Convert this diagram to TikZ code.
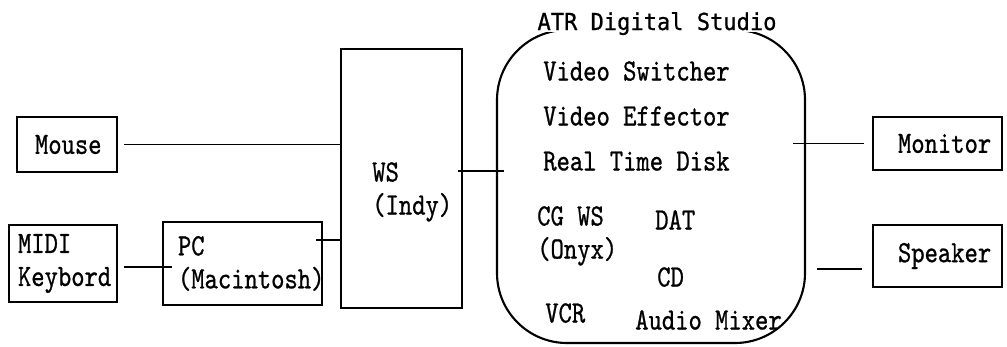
\documentclass[tikz,border=0pt]{standalone}
\usepackage{fontspec}
\usepackage{tikz}
\usetikzlibrary{positioning, calc}
\newfontfamily\titulo[FakeStretch=0.945, FakeBold=0.8]{DejaVu Sans Mono}
\newfontfamily\minchofam[FakeStretch=0.82, FakeBold=0.8]{lmmono10-regular.otf}
\newcommand\mincho{\minchofam\fontsize{22}{23.5}\selectfont}
\tikzset{
  equipo/.style={rectangle, draw=black, line width=1.4pt,
    align=left, font=\mincho, inner sep=0pt},
  estudio/.style={rectangle, rounded corners=17.5mm, draw=black, line width=1.5pt},
  elem/.style={anchor=west, align=left, font=\mincho, inner sep=0pt,
    text height=4.75mm, text depth=0pt},
  enlace/.style={line width=1.4pt}
}

\begin{document}
\begin{tikzpicture}[x=0.25mm, y=-0.25mm]
  \useasboundingbox (0,0) rectangle (1007,347);
  % equipos de entrada
  \node[equipo, minimum width=25mm, minimum height=13.75mm, text width=16mm] (mouse) at (67,144.5) {Mouse};
  \node[equipo, minimum width=27mm, minimum height=19.25mm, text width=22.5mm] (midi) at (63,263.5) {MIDI\\Keybord};
  \node[equipo, right=11mm of midi, minimum width=39.75mm, minimum height=20.75mm, text width=32.25mm] (pc) {PC\\(Macintosh)};
  \node[equipo, minimum width=30.25mm, minimum height=64.75mm] (ws) at (401.5,178.5) {};
  \node[elem] (wstxt) at (372,205) {WS\\(Indy)};
  % estudio
  \node[estudio, minimum width=77mm, minimum height=78.25mm] (studio) at (651,186.5) {};
  \node[font=\titulo\fontsize{16.6}{18}\selectfont, fill=white, inner xsep=1mm, inner ysep=0.6mm,
    text height=4.25mm, text depth=0pt] (tit) at (657,21.5) {ATR Digital Studio};
  \node[elem] (vsw) at (543,71) {Video Switcher};
  \node[elem] (vef) at (543,116) {Video Effector};
  \node[elem] (rtd) at (543,161) {Real Time Disk};
  \node[elem] (cgws) at (537,249) {CG WS\\(Onyx)};
  \node[elem] (dat) at (655,220) {DAT};
  \node[elem] (cd) at (657,277) {CD};
  \node[elem] (vcr) at (545,313) {VCR};
  \node[elem] (amix) at (635,320) {Audio Mixer};
  % salidas
  \node[equipo, minimum width=32.25mm, minimum height=13.25mm, text width=19.75mm] (monitor) at (937.5,143.5) {Monitor};
  \node[equipo, below=13.25mm of monitor, minimum width=32.25mm, minimum height=15.5mm, text width=19.75mm] (speaker) {Speaker};

  \coordinate (kb) at ($(midi.east)+(0,3.5)$);
  \coordinate (mac) at ($(pc.east)+(0,-23.5)$);
  \coordinate (indy) at ($(ws.east)+(0,-7.5)$);
  \coordinate (audio) at ($(speaker.west)+(0,13)$);
  \draw[enlace, shorten <=1.5mm] (mouse.east) -- (mouse.east -| ws.west);
  \draw[enlace, shorten <=1.5mm, shorten >=-2.5mm] (kb) -- (kb -| pc.west);
  \draw[enlace, shorten <=-1.75mm] (mac) -- (mac -| ws.west);
  \draw[enlace, shorten <=-1.25mm, shorten >=-2mm] (indy) -- (indy -| studio.west);
  \draw[enlace, shorten <=-3.25mm, shorten >=2mm] (monitor.west -| studio.east) -- (monitor.west);
  \draw[enlace, shorten <=2.75mm, shorten >=2.5mm] (audio -| studio.east) -- (audio);
\end{tikzpicture}
\end{document}
